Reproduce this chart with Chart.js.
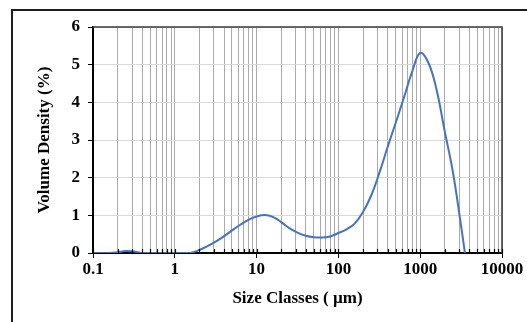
<!DOCTYPE html>
<html>
<head>
<meta charset="utf-8">
<title>Size distribution</title>
<script src="https://cdn.jsdelivr.net/npm/chart.js@4/dist/chart.umd.min.js"></script>
<style>
  html, body { margin: 0; padding: 0; background: #fff; overflow: hidden; }
  #frame {
    position: absolute; left: 11px; top: 9px; width: 700px; height: 500px;
    border-left: 2px solid #1e1e1e; border-top: 2px solid #1e1e1e;
  }
  #wrap { position: absolute; left: 0; top: 0; width: 527px; height: 322px; }
</style>
</head>
<body>
<div id="frame"></div>
<div id="wrap"><canvas id="psdChart"></canvas></div>
<script>
// ─────────────────────────────────────────────
// DATA (size classes in µm)
// ─────────────────────────────────────────────
const sizeClasses = [0.1, 0.158, 0.2, 0.251, 0.316, 0.398, 0.501, 1, 1.26, 1.58, 2, 2.51, 3.16, 3.98, 5.01, 6.31, 7.94,
  10, 12.6, 15.8, 20, 25.1, 31.6, 39.8, 50.1, 63.1, 79.4, 100, 126, 158, 200, 251, 316, 398, 501, 631, 794,
  1000, 1260, 1580, 2000, 2510, 3160, 3520];
const volumeDensity = [0, 0, 0.02, 0.05, 0.04, 0, 0, 0, 0, 0.01, 0.08, 0.18, 0.30, 0.44, 0.60, 0.75, 0.88,
  0.97, 1.01, 0.96, 0.82, 0.66, 0.54, 0.46, 0.42, 0.41, 0.44, 0.53, 0.63, 0.78, 1.09, 1.52, 2.12, 2.80, 3.45, 4.12, 4.80,
  5.31, 5.05, 4.35, 3.22, 2.15, 0.72, 0];

const xMajorTicks = [0.1, 1, 10, 100, 1000, 10000];
const xMinorMultipliers = [2, 3, 4, 5, 6, 7, 8, 9];
const yTicks = [0, 1, 2, 3, 4, 5, 6];

// full list of log grid positions (1..9 × each decade)
const xGridTicks = [];
xMajorTicks.forEach((m, i) => {
  xGridTicks.push(m);
  if (i < xMajorTicks.length - 1) xMinorMultipliers.forEach(k => xGridTicks.push(+(m * k).toPrecision(3)));
});

const isMajor = v => Math.abs(Math.log10(v) - Math.round(Math.log10(v))) < 1e-9;

const FONT = { family: "'Liberation Serif', 'Times New Roman', serif", size: 17, weight: 'bold' };

// frame round the plot + small inward ticks on the x axis
const plotFrame = {
  id: 'plotFrame',
  afterDraw(chart) {
    const { ctx, chartArea: a, scales } = chart;
    ctx.save();
    ctx.strokeStyle = '#3a3a3a';
    ctx.lineWidth = 1.5;
    ctx.beginPath();
    ctx.moveTo(a.left, a.top);
    ctx.lineTo(a.right, a.top);
    ctx.lineTo(a.right, a.bottom);
    ctx.stroke();

    ctx.strokeStyle = '#000';
    ctx.lineWidth = 1.2;
    scales.x.ticks.forEach(t => {
      const px = Math.round(scales.x.getPixelForValue(t.value)) + 0.5;
      ctx.beginPath();
      ctx.moveTo(px, a.bottom);
      ctx.lineTo(px, a.bottom - 4);
      ctx.stroke();
    });
    ctx.restore();
  }
};

new Chart(document.getElementById('psdChart').getContext('2d'), {
  type: 'line',
  data: {
    datasets: [{
      label: 'Volume Density',
      data: sizeClasses.map((s, i) => ({ x: s, y: volumeDensity[i] })),
      borderColor: '#4472C4',
      borderWidth: 2,
      pointRadius: 0,
      fill: false,
      tension: 0.4
    }]
  },
  options: {
    responsive: true,
    maintainAspectRatio: false,
    animation: false,
    layout: { padding: { left: 34, top: 27, right: 25, bottom: 13 } },
    plugins: { legend: { display: false }, tooltip: { enabled: false } },
    scales: {
      x: {
        type: 'logarithmic',
        min: 0.1,
        max: 10000,
        afterBuildTicks: scale => { scale.ticks = xGridTicks.map(v => ({ value: v, major: isMajor(v) })); },
        afterFit: scale => { scale.height = 56; },
        grid: {
          color: '#aaaaaa',
          lineWidth: 1,
          tickLength: 5,
          tickColor: ctx => (ctx.tick && isMajor(ctx.tick.value)) ? '#000' : 'rgba(0,0,0,0)'
        },
        border: { display: true, color: '#000', width: 2 },
        ticks: {
          autoSkip: false,
          maxRotation: 0,
          padding: 1,
          color: '#000',
          font: FONT,
          callback: v => isMajor(v) ? String(v) : ''
        },
        title: { display: true, text: 'Size Classes ( µm)', color: '#000', font: FONT, padding: 0 }
      },
      y: {
        min: 0,
        max: 6,
        afterBuildTicks: scale => { scale.ticks = yTicks.map(v => ({ value: v })); },
        afterFit: scale => { scale.width = 59; },
        grid: { color: '#d9d9d9', lineWidth: 1, tickLength: 5, tickColor: '#000' },
        border: { display: true, color: '#000', width: 2 },
        ticks: { padding: 8, color: '#000', font: FONT },
        title: { display: true, text: 'Volume Density (%)', color: '#000', font: FONT, padding: 0 }
      }
    }
  },
  plugins: [plotFrame]
});
</script>
</body>
</html>
